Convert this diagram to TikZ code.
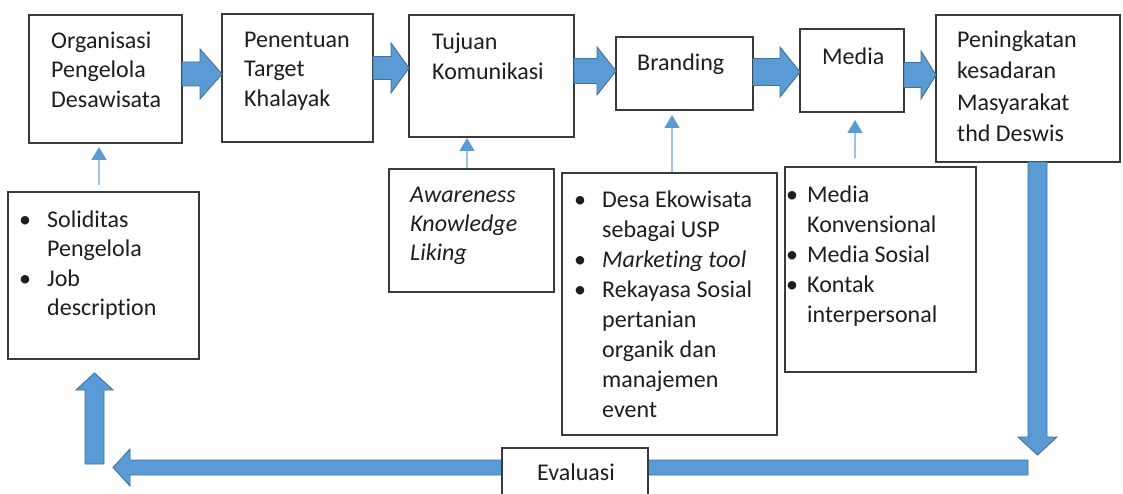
\documentclass[tikz,border=0pt]{standalone}
\usepackage{fontspec}
\setmainfont{Carlito}[Ligatures=NoCommon]
\usetikzlibrary{calc,arrows.meta}
\definecolor{abl}{HTML}{5B9BD5}
\definecolor{abd}{HTML}{41719C}
\definecolor{lbl}{HTML}{9DC3E6}
\definecolor{bgr}{HTML}{3A3A3A}
\definecolor{txc}{HTML}{1E1E1E}
\newcommand\mybul[1]{\makebox[#1][l]{\makebox[10pt]{\textbullet}}}
% horizontal block arrow: start, tip, body half, head half, signed head length
\newcommand\ArrH[5]{\path[blockarrow] let \p1=#1, \p2=#2 in
  (\x1,{\y2+#3}) -- ({\x2-(#5)},{\y2+#3}) -- ({\x2-(#5)},{\y2+#4}) -- (\x2,\y2)
  -- ({\x2-(#5)},{\y2-#4}) -- ({\x2-(#5)},{\y2-#3}) -- (\x1,{\y2-#3}) -- cycle;}
% vertical block arrow: start, tip, body half, head half, signed head length (canvas)
\newcommand\ArrV[5]{\path[blockarrow] let \p1=#1, \p2=#2 in
  ({\x2+#3},\y1) -- ({\x2+#3},{\y2+(#5)}) -- ({\x2+#4},{\y2+(#5)}) -- (\x2,\y2)
  -- ({\x2-#4},{\y2+(#5)}) -- ({\x2-#3},{\y2+(#5)}) -- ({\x2-#3},\y1) -- cycle;}
\begin{document}
\begin{tikzpicture}[x=1pt,y=-1pt,
  box/.style={draw=bgr, line width=1.8pt, fill=white, anchor=north west, inner sep=0pt, outer sep=0pt},
  txt/.style={anchor=north west, inner sep=0pt, align=left, text=txc, font=\fontsize{24}{30}\selectfont},
  blockarrow/.style={fill=abl, draw=abd, line width=0.9pt, line join=miter},
  thinarrow/.style={draw=lbl, line width=1.6pt, -{Triangle[width=15pt,length=13pt,color=abl,fill=abl]}}]
\useasboundingbox (0,0) rectangle (1123,494);
\clip (0,0) rectangle (1123,494);

% coordinates for the feedback loop
\coordinate (dtip) at (1037.5,455);
\coordinate (lstart) at (1028,467.5);
\coordinate (ltip) at (113,467.5);
\coordinate (ustart) at (94.5,464);
\coordinate (utip) at (94.5,373);

% boxes
\node[box, minimum width=153pt, minimum height=128pt] (b1) at (29,15) {};
\node[box, minimum width=151pt, minimum height=128pt] (b2) at (222,14) {};
\node[box, minimum width=165pt, minimum height=122pt] (b3) at (409,15) {};
\node[box, minimum width=137pt, minimum height=73pt] (b4) at (616,37) {};
\node[box, minimum width=104pt, minimum height=83pt] (b5) at (800,29) {};
\node[box, minimum width=184pt, minimum height=147pt] (b6) at (936,15) {};
\node[box, minimum width=191pt, minimum height=167pt] (s1) at (8,192) {};
\node[box, minimum width=165pt, minimum height=123pt] (s2) at (389,169) {};
\node[box, minimum width=215pt, minimum height=262pt] (s3) at (562,173) {};
\node[box, minimum width=191pt, minimum height=205pt] (s4) at (785,167) {};

% block arrows along the top
\ArrH{(b1.east)}{(b2.west |- 0,74)}{12pt}{25pt}{22pt}
\ArrH{(b2.east)}{(b3.west |- 0,68)}{11.5pt}{25pt}{18pt}
\ArrH{(b3.east)}{(b4.west |- 0,71)}{12.5pt}{24pt}{19pt}
\ArrH{(b4.east)}{(b5.west |- 0,72)}{13.5pt}{25pt}{20pt}
\ArrH{(b5.east)}{(b6.west |- 0,75)}{12.5pt}{24pt}{15pt}

% feedback loop
\ArrV{(b6.south -| dtip)}{(dtip)}{9.5pt}{19.5pt}{18pt}
\ArrH{(lstart)}{(ltip)}{7.5pt}{18.5pt}{-17pt}
\ArrV{(ustart)}{(utip)}{9.5pt}{18.5pt}{-17pt}

\node[box, minimum width=146pt, minimum height=70pt] (ev) at (502,448) {};

% thin arrows
\draw[thinarrow, shorten <=7pt, shorten >=4pt] (s1.north -| 99,0) -- (b1.south -| 99,0);
\draw[thinarrow, shorten <=1pt, shorten >=1pt] (s2.north -| 467,0) -- (b3.south -| 467,0);
\draw[thinarrow, shorten <=1pt, shorten >=5pt] (s3.north -| 672,0) -- (b4.south -| 672,0);
\draw[thinarrow, shorten <=9pt, shorten >=8pt] (s4.north -| 855,0) -- (b5.south -| 855,0);

% texts
\node[txt, font=\fontsize{24}{29.5}\selectfont] (t1) at (51,28) {\rule{0pt}{20pt}Organisasi\\Pengelola\\Desawisata};
\node[txt, font=\fontsize{24}{29.5}\selectfont] (t2) at (244,27) {\rule{0pt}{20pt}Penentuan\\Target\\Khalayak};
\node[txt] (t3) at (432,29) {\rule{0pt}{20pt}Tujuan\\Komunikasi};
\node[txt] (t4) at (637,50) {\rule{0pt}{20pt}Branding};
\node[txt] (t5) at (822,44) {\rule{0pt}{20pt}Media};
\node[txt, font=\fontsize{24}{31.5}\selectfont] (t6) at (957,27) {\rule{0pt}{20pt}Peningkatan\\kesadaran\\Masyarakat\\thd Deswis};
\node[txt, font=\fontsize{24}{29.4}\selectfont] (u1) at (20,207)
  {\rule{0pt}{20pt}\mybul{27pt}Soliditas\\\hspace*{27pt}Pengelola\\\mybul{27pt}Job\\\hspace*{27pt}description};
\node[txt, font=\fontsize{24}{29}\selectfont\itshape] (u2) at (410,182)
  {\rule{0pt}{20pt}Awareness\\Knowledge\\Liking};
\node[txt] (u3) at (575,187)
  {\rule{0pt}{20pt}\mybul{27pt}Desa Ekowisata\\\hspace*{27pt}sebagai USP\\\mybul{27pt}\textit{Marketing tool}\\\mybul{27pt}Rekayasa Sosial\\\hspace*{27pt}pertanian\\\hspace*{27pt}organik dan\\\hspace*{27pt}manajemen\\\hspace*{27pt}event};
\node[txt] (u4) at (787,182)
  {\rule{0pt}{20pt}\mybul{20pt}Media\\\hspace*{20pt}Konvensional\\\mybul{20pt}Media Sosial\\\mybul{20pt}Kontak\\\hspace*{20pt}interpersonal};
\node[anchor=base, inner sep=0pt, text=txc, font=\fontsize{24}{30}\selectfont] (tev) at (576,480) {Evaluasi};
\end{tikzpicture}
\end{document}
